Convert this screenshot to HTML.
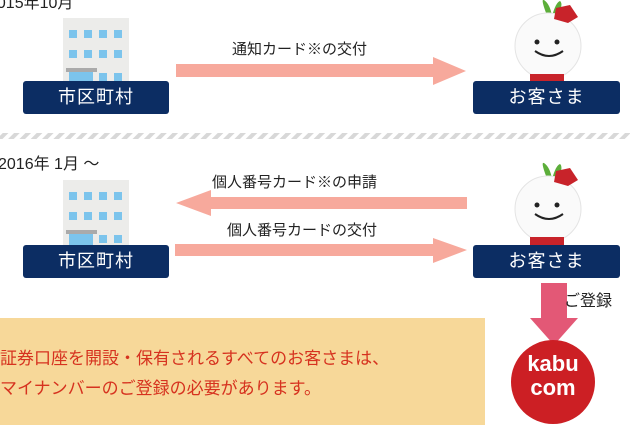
<!DOCTYPE html>
<html><head><meta charset="utf-8"><style>
body{margin:0;width:630px;height:425px;overflow:hidden;background:#fff;position:relative;font-family:"Liberation Sans","Noto Sans CJK JP",sans-serif}
.a{position:absolute}
.lbl{position:absolute;background:#0c2d63;color:#fff;font-size:18px;text-align:center;line-height:33px;border-radius:3px;letter-spacing:1px}
.t{position:absolute;font-size:15px;color:#222;white-space:nowrap}
</style></head><body>
<div class="t" style="left:-12px;top:-11px;font-size:16px">2015年10月</div>
<div class="t" style="left:-2px;top:150px;font-size:16px">2016年 1月 ～</div>
<svg class="a" style="left:0;top:0" width="630" height="425">
<defs>
<g id="bld">
<rect x="0" y="0" width="66" height="66" fill="#ececea"/>
<g fill="#7cc4ec">
<rect x="6" y="12" width="8" height="8"/><rect x="21" y="12" width="8" height="8"/><rect x="36" y="12" width="8" height="8"/><rect x="51" y="12" width="8" height="8"/>
<rect x="6" y="32" width="8" height="8"/><rect x="21" y="32" width="8" height="8"/><rect x="36" y="32" width="8" height="8"/><rect x="51" y="32" width="8" height="8"/>
<rect x="6" y="53" width="24" height="14"/><rect x="36" y="55" width="8" height="8"/><rect x="51" y="55" width="8" height="8"/></g>
<rect x="3" y="50" width="31" height="4" fill="#aaa"/>
</g>
<g id="rad">
<path d="M40 18 q-8-20 -4-18 q6 4 8 16 q4-14 8-15 q4 3-3 17z" fill="#5cae3a"/>
<circle cx="40" cy="46" r="33" fill="#fafafa" stroke="#e4e4e4"/>
<circle cx="29" cy="42" r="2.5" fill="#222"/><circle cx="49" cy="42" r="2.5" fill="#222"/>
<path d="M27 51 q14 10 28 0" stroke="#222" stroke-width="2" fill="none"/>
<path d="M48 8 l14-3 8 12 -10 6 -14-4z" fill="#c8232a"/>
<rect x="22" y="74" width="34" height="10" fill="#c8232a"/>
</g>
</defs>
<use href="#bld" x="63" y="18"/>
<use href="#bld" x="63" y="180"/>
<use href="#rad" x="508" y="0"/>
<use href="#rad" x="508" y="163"/>
<pattern id="dp" width="8" height="8" patternUnits="userSpaceOnUse" patternTransform="rotate(45)"><rect width="4" height="8" fill="#d8d8d8"/></pattern>
<rect x="0" y="133" width="630" height="6" fill="url(#dp)"/>
<g fill="#f7a99c">
<polygon points="176,64 433,64 433,57 466,71 433,85 433,77 176,77"/>
<polygon points="467,197 211,197 211,190 176,203 211,216 211,209 467,209"/>
<polygon points="175,244 433,244 433,238 467,250 433,263 433,256 175,256"/>
</g>
<polygon points="541,283 567,283 567,318 578,318 554,345 530,318 541,318" fill="#e35876"/>
<rect x="0" y="318" width="485" height="107" fill="#f7d899"/>
<circle cx="553" cy="382" r="42" fill="#cc1f24"/>
</svg>
<div class="lbl" style="left:23px;top:81px;width:146px;height:33px">市区町村</div>
<div class="lbl" style="left:23px;top:245px;width:146px;height:33px">市区町村</div>
<div class="lbl" style="left:473px;top:81px;width:147px;height:33px">お客さま</div>
<div class="lbl" style="left:473px;top:245px;width:147px;height:33px">お客さま</div>
<div class="t" style="left:232px;top:38px">通知カード※の交付</div>
<div class="t" style="left:212px;top:171px">個人番号カード※の申請</div>
<div class="t" style="left:227px;top:219px">個人番号カードの交付</div>
<div class="t" style="left:564px;top:287px;font-size:16px">ご登録</div>
<div class="t" style="left:0;top:344px;font-size:17px;color:#d6321f">証券口座を開設・保有されるすべてのお客さまは、</div>
<div class="t" style="left:0;top:374px;font-size:17px;color:#d6321f">マイナンバーのご登録の必要があります。</div>
<div class="t" style="left:520px;top:352px;width:66px;text-align:center;color:#fff;font-weight:bold;font-size:22px;line-height:24px">kabu<br>com</div>
</body></html>
